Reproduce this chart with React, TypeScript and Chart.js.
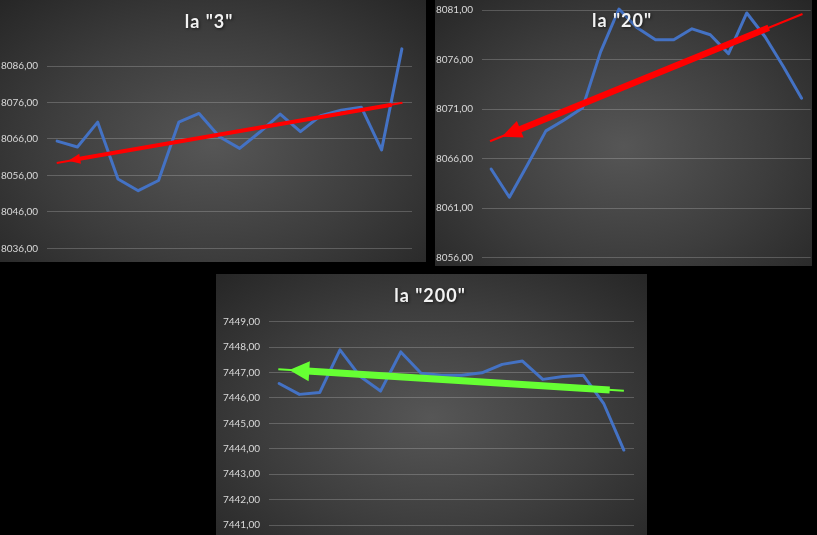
import React, { useEffect, useRef } from 'react';
import { Chart, registerables } from 'chart.js';

Chart.register(...registerables);

// ---------- data ----------
const categories = ['1', '2', '3', '4', '5', '6', '7', '8', '9', '10', '11', '12', '13', '14', '15', '16', '17', '18'];

const series3 = [8065.4, 8063.8, 8070.6, 8055.0, 8051.8, 8054.6, 8070.6, 8073.0, 8066.6, 8063.4, 8067.9, 8072.8, 8068.0, 8072.4, 8073.9, 8074.7, 8063.0, 8090.7];
const series20 = [8064.95, 8062.1, 8065.4, 8068.8, 8069.9, 8071.1, 8076.8, 8081.1, 8079.2, 8078.0, 8078.0, 8079.1, 8078.5, 8076.6, 8080.7, 8078.3, 8075.3, 8072.1];
const series200 = [7446.57, 7446.14, 7446.21, 7447.89, 7446.84, 7446.27, 7447.81, 7446.97, 7446.89, 7446.89, 7446.99, 7447.32, 7447.45, 7446.73, 7446.84, 7446.89, 7445.79, 7443.95];

const ticks3 = [8036, 8046, 8056, 8066, 8076, 8086];
const ticks20 = [8056, 8061, 8066, 8071, 8076, 8081];
const ticks200 = [7441, 7442, 7443, 7444, 7445, 7446, 7447, 7448, 7449];

// arrow overlays in data coordinates: [categoryIndex, value]
const arrow3Line = [[-0.02, 8059.4], [17.03, 8075.9]];
const arrow3Shaft = [[16.5, 8075.4], [0.55, 8060.0]];
const arrow20Line = [[-0.06, 8067.75], [17.05, 8080.6]];
const arrow20Shaft = [[15.2, 8079.2], [0.58, 8068.2]];
const arrow200Line = [[-0.04, 7447.13], [17.0, 7446.28]];
const arrow200Shaft = [[16.3, 7446.31], [0.5, 7447.1]];

const fmt = (v: number) => v.toFixed(2).replace('.', ',');

const EXT = 24; // extra canvas margin hidden by the panel's overflow

const arrowPlugin = {
  id: 'arrowOverlay',
  afterDatasetsDraw(chart: any, _args: any, opts: any) {
    if (!opts || !opts.line) return;
    const xs = chart.scales.x;
    const ys = chart.scales.y;
    const P = (p: number[]) => [xs.getPixelForValue(p[0]), ys.getPixelForValue(p[1])];
    const ctx = chart.ctx;
    ctx.save();
    ctx.strokeStyle = opts.color;
    ctx.fillStyle = opts.color;
    const A = P(opts.line[0]);
    const B = P(opts.line[1]);
    ctx.lineWidth = opts.thinWidth;
    ctx.lineCap = 'butt';
    ctx.beginPath();
    ctx.moveTo(A[0], A[1]);
    ctx.lineTo(B[0], B[1]);
    ctx.stroke();
    const S = P(opts.shaft[0]);
    const T = P(opts.shaft[1]);
    const dx = T[0] - S[0];
    const dy = T[1] - S[1];
    const len = Math.hypot(dx, dy);
    const ux = dx / len;
    const uy = dy / len;
    const nx = -uy;
    const ny = ux;
    const bx = T[0] - ux * opts.headLen;
    const by = T[1] - uy * opts.headLen;
    ctx.lineWidth = opts.shaftWidth;
    ctx.beginPath();
    ctx.moveTo(S[0], S[1]);
    ctx.lineTo(bx + ux * 2, by + uy * 2);
    ctx.stroke();
    ctx.beginPath();
    ctx.moveTo(T[0], T[1]);
    ctx.lineTo(bx + nx * opts.headHalf, by + ny * opts.headHalf);
    ctx.lineTo(bx - nx * opts.headHalf, by - ny * opts.headHalf);
    ctx.closePath();
    ctx.fill();
    ctx.restore();
  },
};

const titlePlugin = {
  id: 'panelTitle',
  afterDraw(chart: any, _args: any, opts: any) {
    if (!opts || !opts.text) return;
    const ctx = chart.ctx;
    ctx.save();
    ctx.font = 'bold 18px Lato';
    (ctx as any).letterSpacing = '1px';
    ctx.fillStyle = '#f2f2f2';
    ctx.textAlign = 'center';
    ctx.textBaseline = 'alphabetic';
    ctx.shadowColor = 'rgba(0,0,0,0.6)';
    ctx.shadowBlur = 3;
    ctx.shadowOffsetX = 1;
    ctx.shadowOffsetY = 1;
    ctx.fillText(opts.text, opts.x, opts.y);
    ctx.restore();
  },
};

type PanelProps = {
  left: number;
  top: number;
  width: number;
  height: number;
  title: string;
  titleX: number;
  titleY: number;
  values: number[];
  tickValues: number[];
  min: number;
  max: number;
  padding: { left: number; right: number; top: number; bottom: number };
  axisWidth: number;
  arrow: any;
};

function Panel(p: PanelProps) {
  const ref = useRef<HTMLCanvasElement | null>(null);
  const cw = p.width;
  const ch = p.height + 2 * EXT;
  useEffect(() => {
    if (!ref.current) return;
    const chart = new Chart(ref.current, {
      type: 'line',
      data: {
        labels: categories,
        datasets: [
          {
            data: p.values,
            borderColor: '#4472C4',
            borderWidth: 3,
            pointRadius: 0,
            tension: 0,
            fill: false,
            borderCapStyle: 'round',
            borderJoinStyle: 'round',
            clip: false as any,
          },
        ],
      },
      options: {
        responsive: false,
        animation: false,
        layout: {
          padding: {
            left: p.padding.left,
            right: p.padding.right,
            top: p.padding.top + EXT,
            bottom: p.padding.bottom + EXT,
          },
        },
        plugins: {
          legend: { display: false },
          tooltip: { enabled: false },
          title: { display: false },
          arrowOverlay: p.arrow,
          panelTitle: { text: p.title, x: p.titleX, y: p.titleY + EXT },
        } as any,
        scales: {
          x: {
            type: 'category',
            display: false,
            offset: true,
            grid: { display: false },
          },
          y: {
            type: 'linear',
            min: p.min,
            max: p.max,
            afterBuildTicks: (axis: any) => {
              axis.ticks = p.tickValues.map((v) => ({ value: v }));
            },
            afterFit: (axis: any) => {
              axis.width = p.axisWidth;
            },
            border: { display: false },
            grid: {
              color: 'rgba(255,255,255,0.2)',
              lineWidth: 1,
              drawTicks: false,
            },
            ticks: {
              color: '#d9d9d9',
              padding: 9,
              font: { family: 'Lato', size: 10 },
              callback: (v: any) => fmt(Number(v)),
            },
          },
        },
      },
      plugins: [arrowPlugin, titlePlugin],
    } as any);
    return () => chart.destroy();
  }, []);
  return (
    <div
      style={{
        position: 'absolute',
        left: p.left,
        top: p.top,
        width: p.width,
        height: p.height,
        overflow: 'hidden',
        background: 'radial-gradient(ellipse at 50% 55%, #565656 0%, #3d3d3d 55%, #262626 100%)',
      }}
    >
      <canvas
        ref={ref}
        width={cw}
        height={ch}
        style={{ position: 'absolute', left: 0, top: -EXT, width: cw, height: ch, display: 'block' }}
      />
    </div>
  );
}

export default function App() {
  return (
    <div style={{ position: 'fixed', left: 0, top: 0, width: 817, height: 535, background: '#000', overflow: 'hidden' }}>
      <Panel
        left={0}
        top={0}
        width={426}
        height={262}
        title={'la "3"'}
        titleX={209}
        titleY={28}
        values={series3}
        tickValues={ticks3}
        min={8036}
        max={8093}
        padding={{ left: 0, right: 14, top: 40.5, bottom: 13.7 }}
        axisWidth={47}
        arrow={{ color: '#ff0000', line: arrow3Line, shaft: arrow3Shaft, thinWidth: 2, shaftWidth: 4, headLen: 12, headHalf: 5 }}
      />
      <Panel
        left={435}
        top={0}
        width={377}
        height={266}
        title={'la "20"'}
        titleX={187}
        titleY={27}
        values={series20}
        tickValues={ticks20}
        min={8056}
        max={8081}
        padding={{ left: 0, right: 1.3, top: 10, bottom: 8.3 }}
        axisWidth={47}
        arrow={{ color: '#ff0000', line: arrow20Line, shaft: arrow20Shaft, thinWidth: 2, shaftWidth: 6.5, headLen: 20, headHalf: 9 }}
      />
      <Panel
        left={216}
        top={274}
        width={431}
        height={261}
        title={'la "200"'}
        titleX={214}
        titleY={28}
        values={series200}
        tickValues={ticks200}
        min={7441}
        max={7449}
        padding={{ left: 0, right: 13, top: 47.7, bottom: 10 }}
        axisWidth={53}
        arrow={{ color: '#66ff33', line: arrow200Line, shaft: arrow200Shaft, thinWidth: 2, shaftWidth: 7, headLen: 20, headHalf: 10 }}
      />
    </div>
  );
}
